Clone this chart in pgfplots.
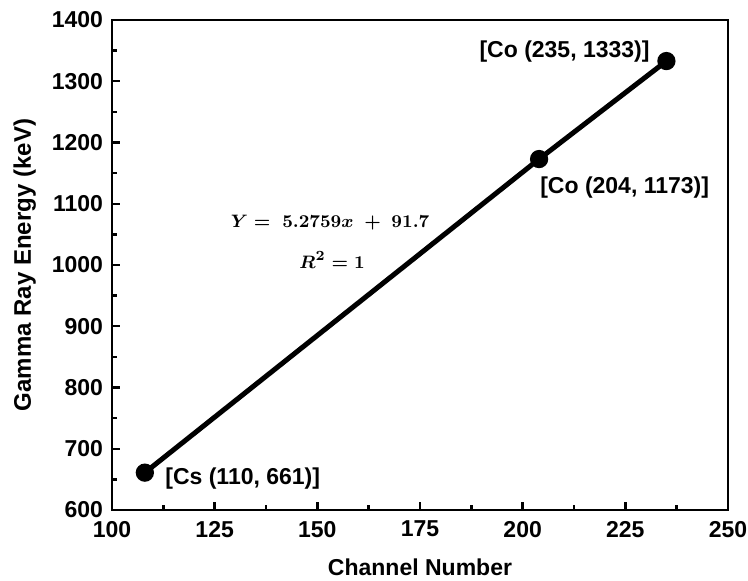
\documentclass[border=0pt]{standalone}
\usepackage{fontspec}
\setmainfont{Liberation Sans}
\usepackage{amsmath}
\usepackage{pgfplots}
\pgfplotsset{compat=1.18}

\begin{document}
\begin{tikzpicture}
\begin{axis}[
    scale only axis,
    width=308pt, height=245pt,
    xmin=100, xmax=250,
    ymin=600, ymax=1400,
    xtick={100,125,...,250},
    ytick={600,700,...,1400},
    minor x tick num=1,
    minor y tick num=1,
    tick align=inside,
    xtick pos=bottom, ytick pos=left,
    major tick length=4pt,
    minor tick length=2.5pt,
    every tick/.style={black, line width=1.2pt},
    axis line style={line width=1.3pt},
    tick label style={font=\fontsize{11.5}{13}\selectfont\bfseries},
    xticklabel style={yshift=-2pt},
    yticklabel style={xshift=-1pt},
    /pgf/number format/assume math mode=true,
    /pgf/number format/set thousands separator={},
    xlabel={Channel Number},
    ylabel={Gamma Ray Energy (keV)},
    xlabel style={font=\fontsize{11.5}{13}\selectfont\bfseries, yshift=-4pt},
    ylabel style={font=\fontsize{12}{14}\selectfont\bfseries, yshift=1pt},
    clip=false,
]
\addplot[black, line width=2.5pt, mark=*, mark size=3.3pt,
         mark options={solid}] coordinates {
    (108, 661)
    (204, 1173)
    (235, 1333)
};
\node[anchor=east, inner sep=0pt, font=\fontsize{11.5}{13}\selectfont\bfseries]
    at (axis cs:231,1348) {[Co (235, 1333)]};
\node[anchor=west, inner sep=0pt, font=\fontsize{11.5}{13}\selectfont\bfseries]
    at (axis cs:204.2,1127) {[Co (204, 1173)]};
\node[anchor=west, inner sep=0pt, font=\fontsize{11.5}{13}\selectfont\bfseries]
    at (axis cs:112.9,652) {[Cs (110, 661)]};
\node[font=\fontsize{9.5}{11}\selectfont\boldmath]
    at (axis cs:153.1,1069) {$Y =\; 5.2759x \;+\; 91.7$};
\node[font=\fontsize{9.5}{11}\selectfont\boldmath]
    at (axis cs:153.6,1008) {$R^2 = 1$};
\end{axis}
\pgfresetboundingbox
\path (-56pt,-35pt) rectangle (318pt,255pt);
\end{tikzpicture}
\end{document}
